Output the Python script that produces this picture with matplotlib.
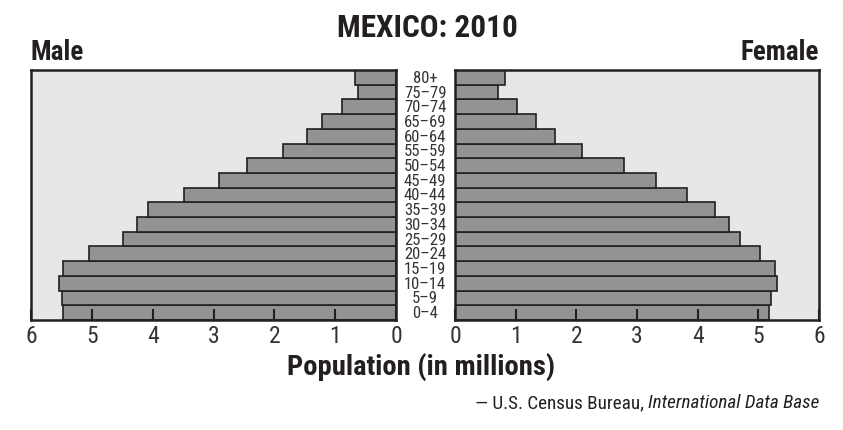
import matplotlib
matplotlib.use("Agg")
import matplotlib.pyplot as plt
import matplotlib.transforms as mtransforms

plt.rcParams['font.family'] = ['Roboto Condensed', 'Open Sans Condensed', 'DejaVu Sans']

# age groups, bottom to top
ages = ['0–4', '5–9', '10–14', '15–19', '20–24', '25–29', '30–34', '35–39',
        '40–44', '45–49', '50–54', '55–59', '60–64', '65–69', '70–74', '75–79', '80+']

# population in millions
male = [5.48, 5.49, 5.54, 5.48, 5.04, 4.48, 4.26, 4.07,
        3.48, 2.91, 2.45, 1.85, 1.46, 1.21, 0.88, 0.62, 0.67]
female = [5.17, 5.21, 5.30, 5.27, 5.02, 4.70, 4.51, 4.29,
          3.82, 3.32, 2.78, 2.10, 1.65, 1.34, 1.02, 0.71, 0.83]

ticks = [0, 1, 2, 3, 4, 5, 6]

W, H = 843, 431
bar_col = '#939393'
bg_col = '#e6e7e8'
ink = '#231f20'

fig = plt.figure(figsize=(W / 100, H / 100), dpi=100)
fig.patch.set_facecolor('white')

ax_l = fig.add_axes([31 / W, (H - 321) / H, 365 / W, 250 / H])
ax_r = fig.add_axes([455 / W, (H - 321) / H, 364 / W, 250 / H])

pos = list(range(len(ages)))

for ax, vals in [(ax_l, male), (ax_r, female)]:
    ax.set_facecolor(bg_col)
    ax.barh(pos, vals, height=1.0, color=bar_col, edgecolor=ink, linewidth=1.2)
    ax.set_ylim(-0.5, len(ages) - 0.5)
    ax.set_yticks([])
    ax.set_xticks(ticks)
    ax.set_xticklabels([str(t) for t in ticks])
    ax.tick_params(axis='x', direction='in', length=8, width=1.5, color=ink,
                   labelsize=17, labelcolor='#333333', pad=3)
    for s in ax.spines.values():
        s.set_linewidth(1.8)
        s.set_color(ink)

ax_l.set_xlim(6, 0)
ax_r.set_xlim(0, 6)

# age labels in the gap between the two halves
trans = mtransforms.blended_transform_factory(fig.transFigure, ax_l.transData)
for p, a in zip(pos, ages):
    ax_l.text(425 / W, p, a, transform=trans, ha='center', va='center',
              fontsize=12, color='#333333', clip_on=False)

fig.text(427 / W, 1 - 28 / H, 'MEXICO: 2010', ha='center', va='center',
         fontsize=22.5, fontweight='bold', color=ink)
fig.text(31 / W, 1 - 53 / H, 'Male', ha='left', va='center',
         fontsize=19.5, fontweight='bold', color=ink)
fig.text(819 / W, 1 - 53 / H, 'Female', ha='right', va='center',
         fontsize=19.5, fontweight='bold', color=ink)
fig.text(421 / W, 1 - 367 / H, 'Population (in millions)', ha='center', va='center',
         fontsize=20.5, fontweight='bold', color=ink)

# source line: plain part then italic part, right aligned
src_it = fig.text(819 / W, 1 - 403 / H, 'International Data Base', ha='right',
                  va='center', fontsize=13.8, fontstyle='italic', color=ink)
fig.canvas.draw()
bb = src_it.get_window_extent()
fig.text((bb.x0 - 4) / W, 1 - 403 / H, '— U.S. Census Bureau,', ha='right',
         va='center', fontsize=13.8, color=ink)

fig.savefig('out.png', dpi=100)
